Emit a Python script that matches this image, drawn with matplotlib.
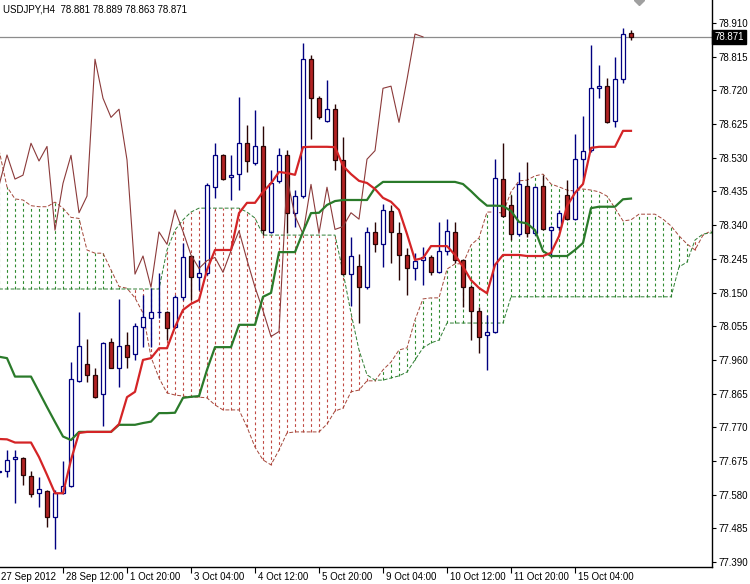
import numpy as np
import matplotlib.pyplot as plt

##### Data #####
# bar index -1 .. 78 (bar 78 = last, 15 Oct), cloud runs 10 bars further
opens = [77.644, 77.648, 77.680, 77.684, 77.634, 77.584, 77.591, 77.516, 77.584, 77.605,
         77.901, 77.948, 77.917, 77.863, 78.011, 77.938, 78.001, 77.977, 78.054, 78.079,
         78.094, 78.094, 78.052, 78.138, 78.253, 78.193, 78.204, 78.448, 78.538, 78.475,
         78.483, 78.571, 78.514, 78.562, 78.322, 78.465, 78.537, 78.375, 78.422, 78.808,
         78.699, 78.635, 78.667, 78.524, 78.202, 78.225, 78.165, 78.321, 78.286, 78.380,
         78.319, 78.256, 78.218, 78.242, 78.251, 78.207, 78.268, 78.320, 78.242, 78.167,
         78.099, 78.030, 78.040, 78.469, 78.397, 78.315, 78.451, 78.317, 78.451, 78.326,
         78.336, 78.425, 78.357, 78.526, 78.552, 78.726, 78.732, 78.634, 78.751, 78.881]
highs = [77.648, 77.706, 77.706, 77.686, 77.648, 77.629, 77.593, 77.593, 77.675, 77.953,
         78.095, 78.019, 77.936, 78.011, 78.021, 78.132, 78.040, 78.064, 78.143, 78.162,
         78.204, 78.098, 78.143, 78.289, 78.256, 78.242, 78.458, 78.571, 78.541, 78.538,
         78.701, 78.623, 78.665, 78.621, 78.496, 78.557, 78.552, 78.439, 78.855, 78.820,
         78.704, 78.749, 78.682, 78.590, 78.307, 78.259, 78.334, 78.349, 78.400, 78.397,
         78.350, 78.275, 78.261, 78.278, 78.256, 78.350, 78.357, 78.350, 78.245, 78.171,
         78.110, 78.087, 78.526, 78.571, 78.425, 78.489, 78.519, 78.450, 78.482, 78.338,
         78.383, 78.467, 78.597, 78.648, 78.848, 78.792, 78.754, 78.813, 78.895, 78.889]
lows = [77.641, 77.631, 77.557, 77.607, 77.573, 77.546, 77.488, 77.426, 77.582, 77.602,
        77.898, 77.897, 77.854, 77.775, 77.936, 77.885, 77.938, 77.960, 77.997, 77.997,
        78.078, 78.016, 78.049, 78.129, 78.129, 78.157, 78.199, 78.416, 78.467, 78.411,
        78.439, 78.491, 78.510, 78.312, 78.317, 78.458, 78.317, 78.336, 78.417, 78.582,
        78.639, 78.632, 78.496, 78.200, 78.112, 78.065, 78.159, 78.265, 78.221, 78.232,
        78.185, 78.143, 78.185, 78.171, 78.200, 78.205, 78.256, 78.232, 78.110, 78.016,
        77.980, 77.932, 78.036, 78.362, 78.298, 78.310, 78.308, 78.312, 78.326, 78.251,
        78.326, 78.355, 78.355, 78.467, 78.546, 78.698, 78.627, 78.616, 78.740, 78.863]
closes = [77.645, 77.678, 77.685, 77.636, 77.582, 77.595, 77.516, 77.584, 77.605, 77.906,
          77.999, 77.917, 77.856, 78.009, 77.938, 77.999, 77.969, 78.057, 78.080, 78.094,
          78.094, 78.049, 78.138, 78.251, 78.193, 78.204, 78.452, 78.538, 78.470, 78.481,
          78.571, 78.521, 78.562, 78.326, 78.458, 78.537, 78.375, 78.422, 78.808, 78.698,
          78.644, 78.667, 78.524, 78.202, 78.253, 78.165, 78.321, 78.286, 78.383, 78.322,
          78.256, 78.218, 78.240, 78.249, 78.207, 78.268, 78.324, 78.242, 78.165, 78.099,
          78.026, 78.040, 78.472, 78.366, 78.315, 78.455, 78.317, 78.447, 78.328, 78.336,
          78.375, 78.357, 78.526, 78.550, 78.726, 78.732, 78.630, 78.751, 78.879, 78.871]

tenkan = [77.737, 77.736, 77.727, 77.727, 77.727, 77.686, 77.636, 77.584, 77.584, 77.678,
          77.754, 77.757, 77.757, 77.757, 77.757, 77.779, 77.855, 77.870, 77.960, 77.965,
          77.993, 77.993, 78.053, 78.101, 78.118, 78.129, 78.214, 78.270, 78.270, 78.270,
          78.374, 78.403, 78.403, 78.434, 78.458, 78.490, 78.487, 78.482, 78.560, 78.561,
          78.561, 78.561, 78.560, 78.507, 78.484, 78.465, 78.459, 78.442, 78.417, 78.406,
          78.383, 78.315, 78.242, 78.247, 78.281, 78.281, 78.281, 78.256, 78.223, 78.185,
          78.163, 78.148, 78.228, 78.256, 78.256, 78.256, 78.253, 78.253, 78.253, 78.262,
          78.309, 78.394, 78.431, 78.456, 78.558, 78.561, 78.561, 78.561, 78.606, 78.606]
kijun = [77.969, 77.965, 77.913, 77.913, 77.913, 77.870, 77.827, 77.785, 77.744, 77.734,
         77.757, 77.757, 77.757, 77.757, 77.757, 77.777, 77.777, 77.777, 77.782, 77.786,
         77.810, 77.810, 77.811, 77.853, 77.856, 77.858, 77.932, 77.996, 77.996, 77.996,
         78.059, 78.059, 78.059, 78.138, 78.149, 78.264, 78.264, 78.264, 78.321, 78.374,
         78.375, 78.397, 78.408, 78.411, 78.411, 78.411, 78.411, 78.445, 78.462, 78.462,
         78.462, 78.462, 78.462, 78.462, 78.462, 78.462, 78.462, 78.462, 78.456, 78.436,
         78.414, 78.395, 78.395, 78.394, 78.380, 78.349, 78.345, 78.326, 78.267, 78.253,
         78.253, 78.253, 78.270, 78.290, 78.388, 78.392, 78.392, 78.392, 78.413, 78.415]

span_a = [78.552, 78.448, 78.414, 78.411, 78.395, 78.392, 78.392, 78.405, 78.388, 78.362,
          78.359, 78.270, 78.261, 78.261, 78.214, 78.167, 78.162, 78.135, 78.092, 77.968,
          77.909, 77.867, 77.861, 77.858, 77.855, 77.855, 77.853, 77.833, 77.819, 77.819,
          77.819, 77.771, 77.714, 77.678, 77.664, 77.706, 77.754, 77.757, 77.757, 77.757,
          77.757, 77.779, 77.816, 77.824, 77.870, 77.875, 77.901, 77.901, 77.932, 77.954,
          77.988, 77.994, 78.073, 78.132, 78.135, 78.135, 78.216, 78.231, 78.231, 78.284,
          78.304, 78.377, 78.377, 78.374, 78.434, 78.465, 78.467, 78.479, 78.484, 78.456,
          78.448, 78.439, 78.436, 78.442, 78.439, 78.434, 78.422, 78.388, 78.352, 78.355,
          78.371, 78.371, 78.371, 78.357, 78.338, 78.310, 78.287, 78.270, 78.312, 78.324]
span_b = [78.160, 78.160, 78.160, 78.160, 78.160, 78.160, 78.160, 78.160, 78.160, 78.160,
          78.160, 78.160, 78.160, 78.160, 78.160, 78.160, 78.160, 78.160, 78.160, 78.160,
          78.160, 78.270, 78.326, 78.355, 78.377, 78.388, 78.388, 78.388, 78.388, 78.388,
          78.388, 78.377, 78.360, 78.312, 78.312, 78.312, 78.312, 78.312, 78.312, 78.312,
          78.312, 78.312, 78.312, 78.208, 78.092, 77.988, 77.918, 77.903, 77.903, 77.909,
          77.915, 77.926, 77.960, 77.994, 78.008, 78.016, 78.064, 78.064, 78.064, 78.064,
          78.064, 78.064, 78.064, 78.064, 78.138, 78.138, 78.138, 78.138, 78.138, 78.138,
          78.138, 78.138, 78.138, 78.138, 78.138, 78.138, 78.138, 78.138, 78.138, 78.138,
          78.138, 78.138, 78.138, 78.138, 78.138, 78.222, 78.236, 78.298, 78.315, 78.318]

price_ticks = [77.390, 77.485, 77.580, 77.675, 77.770, 77.865, 77.960, 78.055, 78.150,
               78.245, 78.340, 78.435, 78.530, 78.625, 78.720, 78.815, 78.910]
date_bars = [7, 15, 23, 31, 39, 47, 55, 63, 71]
date_labels = ['28 Sep 12:00', '1 Oct 20:00', '3 Oct 04:00', '4 Oct 12:00', '5 Oct 20:00',
               '9 Oct 04:00', '10 Oct 12:00', '11 Oct 20:00', '15 Oct 04:00']
first_label = '27 Sep 2012'
header = 'USDJPY,H4  78.881 78.889 78.863 78.871'
last_price = 78.871

bars = np.arange(-1, 79)
cloud_bars = np.arange(-1, 89)
o, h, l, c = map(np.array, (opens, highs, lows, closes))
sa, sb = np.array(span_a), np.array(span_b)

plt.rcParams['font.family'] = 'Liberation Sans'
fig = plt.figure(figsize=(7.5, 5.84), dpi=100)
ax = fig.add_axes([0, 17 / 584, 712 / 750, 567 / 584])

# cloud hatching (dotted vertical lines at each bar)
up = sa >= sb
ax.vlines(cloud_bars[up], sb[up], sa[up], colors='#2f8a2f', lw=0.8,
          linestyles=(0, (2.5, 2.5)), zorder=1)
ax.vlines(cloud_bars[~up], sa[~up], sb[~up], colors='#c04a44', lw=0.8,
          linestyles=(0, (2.5, 2.5)), zorder=1)
ax.plot(cloud_bars, sa, color='#a3473a', lw=0.7, ls=(0, (4, 2)), zorder=1.5)
ax.plot(cloud_bars, sb, color='#2e7d32', lw=0.7, ls=(0, (4, 2)), zorder=1.5)

# candles
bull = c >= o
wick_col = np.where(bull, '#000080', '#2a0505')
ax.vlines(bars, l, h, colors=wick_col, lw=1.0, zorder=2)
body_lo = np.minimum(o, c)
body_h = np.maximum(np.abs(c - o), 0.002)
ax.bar(bars[bull], body_h[bull], bottom=body_lo[bull], width=0.62,
       color='white', edgecolor='#000080', lw=0.9, zorder=3)
ax.bar(bars[~bull], body_h[~bull], bottom=body_lo[~bull], width=0.62,
       color='#b22222', edgecolor='#2a0505', lw=0.9, zorder=3)

# chikou span: closes drawn 26 bars back
ax.plot(bars[:-26], c[26:], color='#8b3a3a', lw=0.8, zorder=4)
ax.plot(bars, kijun, color='#2a7a2a', lw=1.6, zorder=4)
ax.plot(bars, tenkan, color='#d42426', lw=1.6, zorder=4)

# bid line
ax.axhline(last_price, color='#8c8c8c', lw=0.9, zorder=1.2)

ax.set_xlim(-0.875, 88.125)
ax.set_ylim(77.376, 78.975)

for s in ['top', 'left']:
    ax.spines[s].set_visible(False)
for s in ['right', 'bottom']:
    ax.spines[s].set_color('black')
    ax.spines[s].set_linewidth(1.0)

ax.yaxis.tick_right()
ax.set_yticks(price_ticks)
ax.set_yticklabels(['%.3f' % v for v in price_ticks], fontsize=7)
ax.tick_params(axis='y', length=3, width=0.8, pad=2, colors='black')

ax.set_xticks(date_bars)
ax.set_xticklabels([])
ax.tick_params(axis='x', length=4, width=0.8)
trans = ax.get_xaxis_transform()
for b, lab in zip(date_bars, date_labels):
    ax.text(b + 0.35, -0.008, lab, transform=trans, ha='left', va='top', fontsize=7)
ax.text(-0.8, -0.008, first_label, transform=trans, ha='left', va='top', fontsize=7)

ax.text(0.004, 1 - 10 / 567, header, transform=ax.transAxes, ha='left', va='center',
        fontsize=7)

# current price tag on the axis
ax.text(1.003, last_price, '%.3f' % last_price, transform=ax.get_yaxis_transform(),
        ha='left', va='center', fontsize=7, color='white', clip_on=False,
        bbox=dict(boxstyle='square,pad=0.2', facecolor='black', edgecolor='black'))

# chart shift marker at the top
ax.plot([79], [78.975], marker='D', color='#a0a0a0', markersize=5, clip_on=True)

fig.savefig('out.png', dpi=100)
